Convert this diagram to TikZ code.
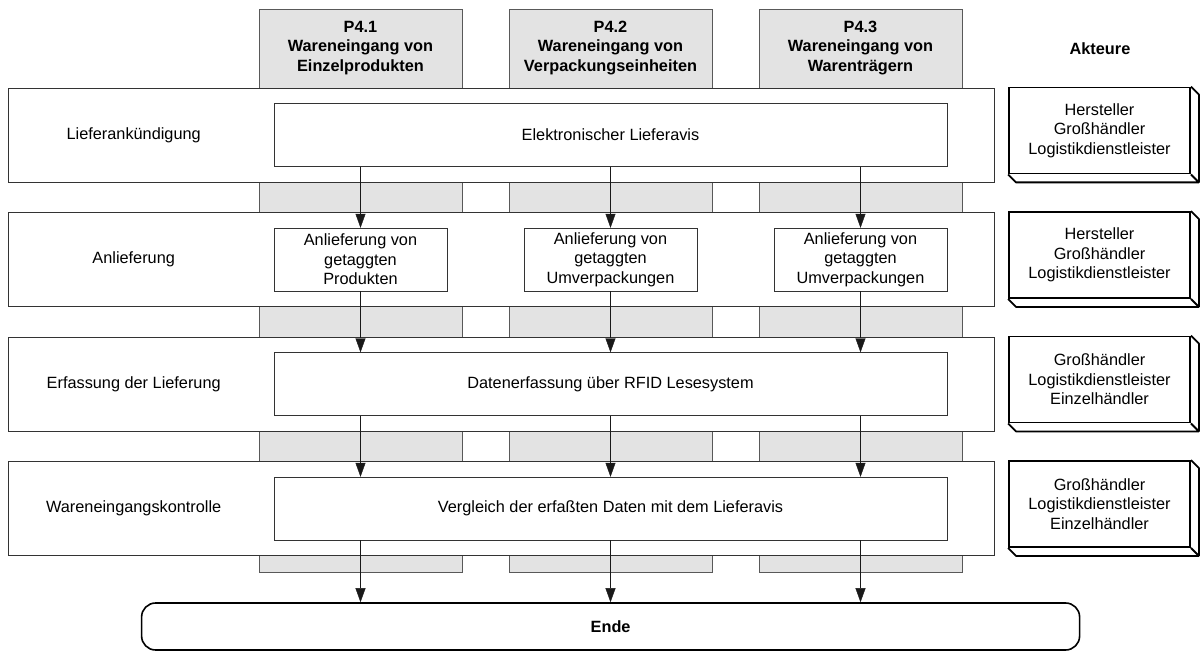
\documentclass[tikz,border=0pt]{standalone}
\usepackage{fontspec}
\setmainfont{Liberation Sans}
\usetikzlibrary{arrows.meta,positioning}
\begin{document}
\begin{tikzpicture}[x=1pt,y=-1pt,node distance=250pt,
  every node/.style={font=\fontsize{16.3}{19.6}\selectfont}]
\tikzstyle{spalte}=[draw=black!65,fill=black!11,minimum width=203pt,minimum height=563pt,inner sep=0pt]
\tikzstyle{kopf}=[align=center,font=\fontsize{16.3}{19.6}\selectfont\bfseries]
\tikzstyle{zeile}=[draw=black!80,fill=white,minimum width=985.6pt,minimum height=94pt,inner sep=0pt]
\tikzstyle{prozess}=[draw=black!80,fill=white,minimum width=673pt,minimum height=63pt,inner sep=0pt]
\tikzstyle{klein}=[draw=black!80,fill=white,minimum width=172.5pt,minimum height=63pt,inner sep=0pt,align=center]
\tikzstyle{akteur}=[draw,line width=1.8pt,fill=white,minimum width=181pt,minimum height=86pt,inner sep=0pt,align=center]
\tikzstyle{tiefe}=[line width=1.8pt,line join=round]
\tikzstyle{pfeil}=[-{Triangle[width=10pt,length=14pt]},black!90]
\useasboundingbox (0,0) rectangle (1204,655);
\node[spalte] (s1) at (360.5,290.5) {};
\node[spalte] (s2) [right of=s1] {};
\node[spalte] (s3) [right of=s2] {};
\node[kopf] (k1) at (360.5,48) {P4.1\\Wareneingang von\\Einzelprodukten};
\node[kopf] (k2) [right of=k1] {P4.2\\Wareneingang von\\Verpackungseinheiten};
\node[kopf] (k3) [right of=k2] {P4.3\\Wareneingang von\\Warentr\"agern};
\node[kopf] (akt) at (1100,49) {Akteure};
\node[zeile] (z1) at (501.2,135) {};
\node[zeile] (z2) [below of=z1,node distance=124.5pt] {};
\node[zeile] (z3) [below of=z2,node distance=124.5pt] {};
\node[zeile] (z4) [below of=z3,node distance=124.5pt] {};
\node (l1) at (133.7,135) {Lieferank\"undigung};
\node (l2) at (133.7,259.5) {Anlieferung};
\node (l3) at (133.7,384) {Erfassung der Lieferung};
\node (l4) at (133.7,508.5) {Wareneingangskontrolle};
\node[prozess] (avis) at (610.5,135) {Elektronischer Lieferavis};
\node[klein] (a1) at (360.5,259.5) {Anlieferung von\\getaggten\\Produkten};
\node[klein] (a2) [right of=a1] {Anlieferung von\\getaggten\\Umverpackungen};
\node[klein] (a3) [right of=a2] {Anlieferung von\\getaggten\\Umverpackungen};
\node[prozess] (rfid) at (610.5,384) {Datenerfassung \"uber RFID Lesesystem};
\node[prozess] (vgl) at (610.5,508.5) {Vergleich der erfa\ss ten Daten mit dem Lieferavis};
\node[akteur] (ak1) at (1099.5,130.5) {Hersteller\\Gro\ss h\"andler\\Logistikdienstleister};
\node[akteur] (ak2) at (1099.5,255) {Hersteller\\Gro\ss h\"andler\\Logistikdienstleister};
\node[akteur] (ak3) at (1099.5,379.5) {Gro\ss h\"andler\\Logistikdienstleister\\Einzelh\"andler};
\node[akteur] (ak4) at (1099.5,504) {Gro\ss h\"andler\\Logistikdienstleister\\Einzelh\"andler};
\foreach \n in {ak1,ak2,ak3,ak4}
  \draw[tiefe] (\n.north east) -- ++(8,8) -- ([shift={(8,8)}]\n.south east)
    -- ([shift={(8,8)}]\n.south west) -- (\n.south west) (\n.south east) -- ++(8,8);
\node[draw,line width=1.6pt,rounded corners=14pt,minimum width=938pt,minimum height=47pt,
  font=\fontsize{16.3}{19.6}\selectfont\bfseries] (ende) at (610.6,626.5) {Ende};
\foreach \i in {1,2,3}{
  \draw[pfeil] (avis.south -| a\i.north) -- (a\i.north);
  \draw[pfeil] (a\i.south) -- (rfid.north -| a\i.south);
  \draw[pfeil] (rfid.south -| a\i.south) -- (vgl.north -| a\i.south);
  \draw[pfeil] (vgl.south -| a\i.south) -- (ende.north -| a\i.south);
}
\end{tikzpicture}
\end{document}
